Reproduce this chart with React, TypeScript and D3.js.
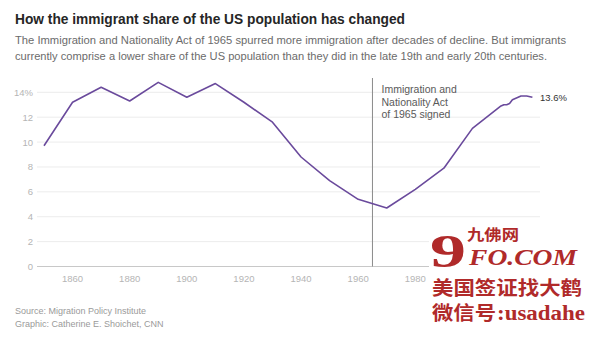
import React from "react";
import * as d3 from "d3";

const years = [1850, 1860, 1870, 1880, 1890, 1900, 1910, 1920, 1930, 1940, 1950, 1960, 1970, 1980, 1990, 2000, 2010, 2011, 2012, 2013, 2014, 2015, 2016, 2017, 2018, 2019, 2021];
const shares = [9.7, 13.2, 14.4, 13.3, 14.8, 13.6, 14.7, 13.2, 11.6, 8.8, 6.9, 5.4, 4.7, 6.2, 7.9, 11.1, 12.9, 13.0, 13.0, 13.1, 13.4, 13.5, 13.6, 13.7, 13.7, 13.7, 13.6];
const yTicks = [0, 2, 4, 6, 8, 10, 12, 14];
const xTicks = [1860, 1880, 1900, 1920, 1940, 1960, 1980];
const eventYear = 1965;
const titleText = "How the immigrant share of the US population has changed";
const subtitleLines = [
  "The Immigration and Nationality Act of 1965 spurred more immigration after decades of decline. But immigrants",
  "currently comprise a lower share of the US population than they did in the late 19th and early 20th centuries.",
];
const annotationLines = ["Immigration and", "Nationality Act", "of 1965 signed"];
const footerLines = ["Source: Migration Policy Institute", "Graphic: Catherine E. Shoichet, CNN"];
const endLabel = "13.6%";

const W = 600;
const H = 339;
const FONT = "'Liberation Sans', Arial, Helvetica, sans-serif";

export default function App() {
  const x = d3.scaleLinear().domain([1850, 2021]).range([44, 532.4]);
  const y = d3.scaleLinear().domain([0, 14]).range([266.5, 92.3]);
  const data = years.map((yr, i) => ({ yr, v: shares[i] }));
  const line = d3
    .line<{ yr: number; v: number }>()
    .x((d) => x(d.yr))
    .y((d) => y(d.v));
  const last = data[data.length - 1];
  const ex = x(eventYear);

  return (
    <svg
      width={W}
      height={H}
      style={{ position: "absolute", left: 0, top: 0, background: "#fff" }}
      fontFamily={FONT}
    >
      <rect x={0} y={0} width={W} height={H} fill="#fff" />
      <text x={15} y={24} fontSize={14} fontWeight={700} fill="#262626" textLength={390} lengthAdjust="spacingAndGlyphs">
        {titleText}
      </text>
      {subtitleLines.map((t, i) => (
        <text
          key={i}
          x={15}
          y={44 + i * 16}
          fontSize={11}
          fill="#6b6b6b"
          textLength={i === 0 ? 551 : 532}
          lengthAdjust="spacingAndGlyphs"
        >
          {t}
        </text>
      ))}

      {yTicks.map((t) => (
        <g key={t}>
          <line
            x1={37}
            x2={540}
            y1={y(t)}
            y2={y(t)}
            stroke={t === 0 ? "#c8c8c8" : "#ececec"}
            strokeWidth={1}
          />
          <text x={33} y={y(t) + 3.5} fontSize={9.5} fill="#b5b5b5" textAnchor="end">
            {t === 14 ? "14%" : t}
          </text>
        </g>
      ))}
      {xTicks.map((t) => (
        <text key={t} x={x(t)} y={282} fontSize={9.5} fill="#b5b5b5" textAnchor="middle">
          {t}
        </text>
      ))}

      <line x1={ex} x2={ex} y1={78} y2={y(0)} stroke="#8a8a8a" strokeWidth={1} />
      {annotationLines.map((t, i) => (
        <text key={i} x={381.5} y={93 + i * 12.5} fontSize={10.5} fill="#5a5a5a">
          {t}
        </text>
      ))}

      <path d={line(data) || ""} fill="none" stroke="#6a4a9c" strokeWidth={1.6} strokeLinejoin="round" />
      <text x={540} y={y(last.v) + 3.5} fontSize={9.5} fill="#333">
        {endLabel}
      </text>

      {footerLines.map((t, i) => (
        <text key={i} x={15} y={314 + i * 12.5} fontSize={9} fill="#9a9a9a">
          {t}
        </text>
      ))}

      <g>
        <rect x={429} y={224} width={171} height={115} fill="#fff" />
        <text x={467} y={240} fontSize={15} fontWeight={700} fill="#b02a2a" fontFamily="'Noto Sans CJK SC', sans-serif" textLength={52} lengthAdjust="spacingAndGlyphs">
          九佛网
        </text>
        <text x={430} y={267} fontSize={46} fontWeight={700} fill="#b02a2a" fontFamily="'Liberation Serif', serif" textLength={36} lengthAdjust="spacingAndGlyphs">
          9
        </text>
        <text x={469} y={265} fontSize={23} fontWeight={700} fontStyle="italic" fill="#b02a2a" fontFamily="'Liberation Serif', serif" textLength={108} lengthAdjust="spacingAndGlyphs">
          FO.COM
        </text>
        <text x={432} y={295} fontSize={19} fontWeight={700} fill="#b02a2a" fontFamily="'Noto Sans CJK SC', sans-serif" textLength={150} lengthAdjust="spacingAndGlyphs">
          美国签证找大鹤
        </text>
        <text x={432} y={320} fontSize={19} fontWeight={700} fill="#b02a2a" fontFamily="'Noto Sans CJK SC', sans-serif" textLength={64} lengthAdjust="spacingAndGlyphs">
          微信号
        </text>
        <text x={497} y={320} fontSize={20} fontWeight={700} fill="#b02a2a" fontFamily="'Liberation Serif', serif" textLength={88} lengthAdjust="spacingAndGlyphs">
          :usadahe
        </text>
      </g>
    </svg>
  );
}
